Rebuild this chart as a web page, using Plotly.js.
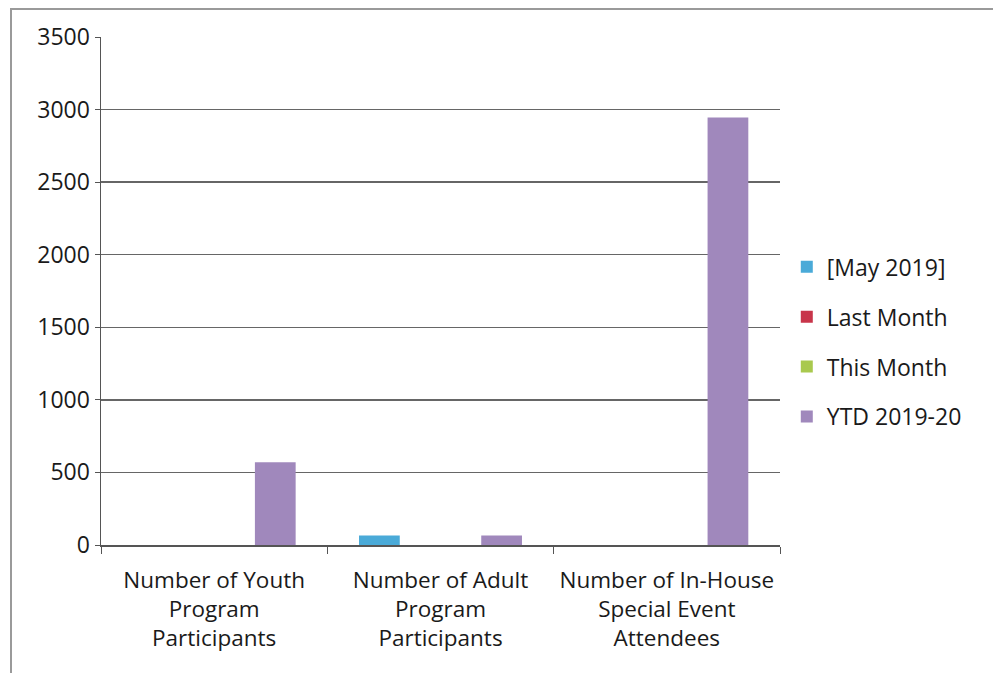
<!DOCTYPE html>
<html>
<head>
<meta charset="utf-8">
<script src="https://cdn.plot.ly/plotly-3.0.1.min.js"></script>
<style>
html,body{margin:0;padding:0;background:#fff;}
#frame{position:absolute;left:10px;top:8px;width:983px;height:665px;border-top:2px solid #9a9a9a;border-left:2px solid #9a9a9a;box-sizing:border-box;}
#chart{position:absolute;left:0;top:0;width:993px;height:673px;}
</style>
</head>
<body>
<div id="frame"></div>
<div id="chart"></div>
<script>
const categories = ["Number of Youth<br>Program<br>Participants", "Number of Adult<br>Program<br>Participants", "Number of In-House<br>Special Event<br>Attendees"];
const seriesNames = ["[May 2019]", "Last Month", "This Month", "YTD 2019-20"];
const may2019 = [0, 65, 0];
const lastMonth = [0, 0, 0];
const thisMonth = [0, 0, 0];
const ytd = [570, 65, 2945];
const colors = ["#4aaad8", "#c8354a", "#a9c94e", "#a088bc"];
const values = [may2019, lastMonth, thisMonth, ytd];

const traces = values.map((v, i) => ({
  type: "bar",
  name: seriesNames[i],
  legendgroup: "g" + i,
  x: categories,
  y: v,
  marker: {color: colors[i]}
}));

const layout = {
  width: 993, height: 673,
  paper_bgcolor: "rgba(0,0,0,0)",
  plot_bgcolor: "rgba(0,0,0,0)",
  margin: {l: 101, r: 213, t: 37, b: 128},
  barmode: "group",
  bargap: 0.28,
  bargroupgap: 0,
  font: {family: "'Open Sans', 'Noto Sans', sans-serif", size: 23, color: "#1a1a1a"},
  xaxis: {
    showline: true, linecolor: "#555", linewidth: 1.5,
    ticks: "outside", tickson: "boundaries", ticklen: 7, tickcolor: "#555",
    tickfont: {size: 22.5, color: "#1a1a1a"},
    tickangle: 0,
    automargin: false,
    ticklabelstandoff: 14,
    showgrid: false
  },
  yaxis: {
    range: [0, 3500], dtick: 500,
    showline: true, linecolor: "#555", linewidth: 1.5,
    ticks: "outside", ticklen: 5, tickcolor: "#555",
    gridcolor: "#666", gridwidth: 1.5,
    zeroline: false,
    tickfont: {size: 23, color: "#1a1a1a"}
  },
  legend: {
    x: 1.01, y: 0.40, yanchor: "middle", xanchor: "left",
    font: {size: 23, color: "#1a1a1a"},
    tracegroupgap: 17,
    itemwidth: 30
  },
  showlegend: true
};

Plotly.newPlot("chart", traces, layout, {displayModeBar: false, staticPlot: true});
</script>
</body>
</html>
